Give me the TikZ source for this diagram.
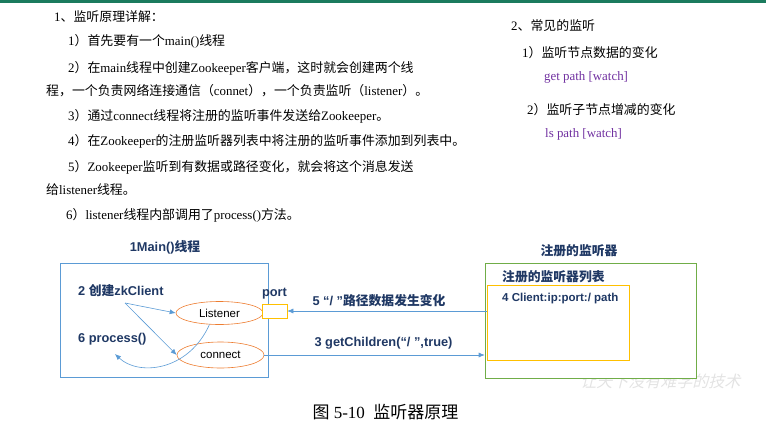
\documentclass[tikz,border=0pt]{standalone}
\usepackage{fontspec}
\setmainfont{Liberation Serif}
\setsansfont{Liberation Sans}
\newfontfamily\zh{Noto Sans CJK SC}
\usetikzlibrary{arrows.meta,positioning,shapes.geometric}

\definecolor{barteal}{HTML}{1B7B5E}
\definecolor{boxblue}{HTML}{5B9BD5}
\definecolor{ringorange}{HTML}{ED7D31}
\definecolor{portgold}{HTML}{FFC000}
\definecolor{regreen}{HTML}{70AD47}
\definecolor{labnavy}{HTML}{1F3864}
\definecolor{cmdpurple}{HTML}{7030A0}

\begin{document}
\begin{tikzpicture}[x=1pt, y=-1pt,
  body/.style={anchor=west, inner sep=0pt, font=\fontsize{12.9}{14}\selectfont},
  cmd/.style={body, text=cmdpurple},
  lab/.style={inner sep=0pt, text=labnavy, font=\sffamily\bfseries\fontsize{12.8}{14}\selectfont},
  frame/.style={draw=#1, semithick, inner sep=0pt},
  thread/.style={ellipse, draw=ringorange, semithick, minimum width=87pt,
    minimum height=24pt, inner sep=0pt, font=\sffamily\fontsize{11.5}{13}\selectfont},
  flow/.style={-{Latex[length=6pt,width=5pt]}, boxblue, semithick},
]
  \useasboundingbox (0,0) rectangle (766,431);
  \fill[barteal] (0,0) rectangle (766,2.5);

  % principle, left column
  \node[body] (h1) at (54,17) {1{\zh 、监听原理详解：}};
  \node[body] (s1) at (68,41) {1{\zh ）首先要有一个}main(){\zh 线程}};
  \node[body] (s2) at (68,68) {2{\zh ）在}main{\zh 线程中创建}Zookeeper{\zh 客户端，这时就会创建两个线}};
  \node[body] (s2b) at (46,91) {{\zh 程，一个负责网络连接通信（}connet{\zh ），一个负责监听（}listener{\zh ）。}};
  \node[body] (s3) at (68,116) {3{\zh ）通过}connect{\zh 线程将注册的监听事件发送给}Zookeeper{\zh 。}};
  \node[body] (s4) at (68,141) {4{\zh ）在}Zookeeper{\zh 的注册监听器列表中将注册的监听事件添加到列表中。}};
  \node[body] (s5) at (68,167) {5{\zh ）}Zookeeper{\zh 监听到有数据或路径变化，就会将这个消息发送}};
  \node[body] (s5b) at (46,190) {{\zh 给}listener{\zh 线程。}};
  \node[body] (s6) at (66,215) {6{\zh ）}listener{\zh 线程内部调用了}process(){\zh 方法。}};

  % common watches, right column
  \node[body] (h2) at (511,26) {2{\zh 、常见的监听}};
  \node[body] (w1) at (522,53) {1{\zh ）监听节点数据的变化}};
  \node[cmd] (c1) at (544,77) {get path [watch]};
  \node[body] (w2) at (527,110) {2{\zh ）监听子节点增减的变化}};
  \node[cmd] (c2) at (545,134) {ls path [watch]};

  % main thread
  \node[lab] (maintitle) at (165,247) {1Main(){\zh\bfseries 线程}};
  \node[frame=boxblue, minimum width=208pt, minimum height=114pt] (mainbox) at (164,320) {};
  \node[lab, anchor=west] (create) at (78,291) {2 {\zh\bfseries 创建}zkClient};
  \node[lab, anchor=west] (process) at (78,339) {6 process()};
  \node[thread, minimum height=23pt] (listener) at (219.5,313) {Listener};
  \node[thread, minimum height=26pt] (connect) at (220.5,355) {connect};
  \node[frame=portgold, fill=white, minimum width=25pt, minimum height=14pt] (port) at (274.5,311) {};
  \node[lab, above=4pt of port] (portlab) {port};

  \coordinate (zkout) at (125,303);
  \coordinate (procin) at (115,354);
  \draw[flow] (zkout) -- (listener.west);
  \draw[flow] (zkout) -- (connect.west);
  \draw[flow] (listener.229) .. controls (188,372) and (138,376) .. (procin);

  % watermark
  \node[text=gray!22, font=\zh\fontsize{16}{16}\selectfont, xslant=0.25] (mark) at (662,381) {让天下没有难学的技术};

  % registered watchers
  \node[frame=regreen, fill=white, minimum width=211pt, minimum height=115pt] (regbox) at (590.5,320.5) {};
  \node[lab] (regtitle) at (579,251) {\zh\bfseries 注册的监听器};
  \node[lab, anchor=west] (listtitle) at (502,277) {\zh\bfseries 注册的监听器列表};
  \node[frame=portgold, minimum width=142pt, minimum height=75pt] (listbox) at (558,322.5) {};
  \node[lab, anchor=west, font=\sffamily\bfseries\fontsize{11.5}{13}\selectfont] (entry) at (502,299) {4 Client:ip:port:/ path};

  \draw[flow] (port.east -| listbox.west) -- (port.east)
    node[lab, midway, above=4pt, xshift=-8pt] {5 “/ ”{\zh\bfseries 路径数据发生变化}};
  \draw[flow] (connect.east) -- (connect.east -| regbox.west)
    node[lab, midway, above=5pt, xshift=9pt] {3 getChildren(“/ ”,true)};

  % caption
  \node[inner sep=0pt, font=\fontsize{17}{18}\selectfont] (caption) at (385.5,412)
    {{\zh 图} 5-10\ \ {\zh 监听器原理}};
\end{tikzpicture}
\end{document}
